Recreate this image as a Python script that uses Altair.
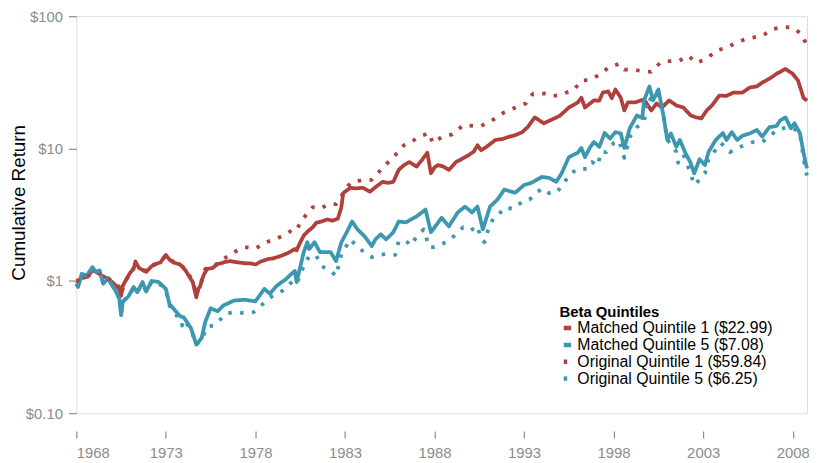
import altair as alt
import pandas as pd

# ---- data ----
series_names = [
    "Matched Quintile 1 ($22.99)",
    "Matched Quintile 5 ($7.08)",
    "Original Quintile 1 ($59.84)",
    "Original Quintile 5 ($6.25)",
]

m1_year = [1968.0, 1968.1, 1968.3, 1968.6, 1968.9, 1969.1, 1969.4, 1969.7, 1970.0, 1970.3, 1970.4, 1970.5, 1970.6, 1970.8,
           1971.0, 1971.2, 1971.3, 1971.5, 1971.9, 1972.2, 1972.5, 1972.7, 1973.0, 1973.2, 1973.4, 1973.8, 1974.1, 1974.3,
           1974.5, 1974.7, 1974.8, 1974.9, 1975.1, 1975.3, 1975.6, 1975.9, 1976.1, 1976.3, 1976.6, 1977.0, 1977.4, 1977.8,
           1978.0, 1978.3, 1978.7, 1979.0, 1979.4, 1979.8, 1980.2, 1980.3, 1980.5, 1980.7, 1980.9, 1981.2, 1981.4, 1981.7,
           1982.0, 1982.3, 1982.6, 1982.8, 1982.9, 1983.3, 1983.6, 1984.0, 1984.4, 1984.7, 1985.1, 1985.4, 1985.7, 1986.0,
           1986.3, 1986.6, 1987.0, 1987.3, 1987.6, 1987.8, 1988.0, 1988.2, 1988.5, 1988.8, 1989.2, 1989.5, 1989.9, 1990.2,
           1990.4, 1990.6, 1990.9, 1991.4, 1991.8, 1992.1, 1992.5, 1992.9, 1993.2, 1993.6, 1994.1, 1994.4, 1994.7, 1995.0,
           1995.5, 1996.0, 1996.2, 1996.4, 1996.9, 1997.2, 1997.4, 1997.7, 1997.9, 1998.1, 1998.4, 1998.6, 1998.8, 1999.2,
           1999.7, 2000.1, 2000.4, 2000.7, 2001.1, 2001.5, 2001.9, 2002.3, 2002.6, 2002.9, 2003.2, 2003.5, 2003.9, 2004.3,
           2004.7, 2005.2, 2005.6, 2006.0, 2006.3, 2006.7, 2007.1, 2007.6, 2008.0, 2008.3, 2008.6, 2008.8]
m1_val = [1.00, 0.98, 1.05, 1.07, 1.20, 1.17, 1.10, 1.05, 0.98, 0.90, 0.87, 0.77, 0.92, 1.03,
          1.15, 1.23, 1.40, 1.25, 1.17, 1.29, 1.35, 1.38, 1.57, 1.45, 1.38, 1.33, 1.20, 1.08,
          0.98, 0.75, 0.87, 0.90, 1.10, 1.23, 1.25, 1.34, 1.36, 1.39, 1.41, 1.38, 1.36, 1.35,
          1.33, 1.40, 1.46, 1.48, 1.54, 1.62, 1.74, 1.70, 1.95, 2.20, 2.35, 2.54, 2.75, 2.81,
          2.91, 2.85, 2.95, 3.6, 4.6, 5.05, 5.0, 5.05, 4.72, 5.1, 5.6, 5.5, 5.6, 6.9,
          7.5, 7.9, 7.3, 8.2, 9.3, 6.5, 7.2, 7.5, 7.3, 6.9, 7.9, 8.3, 8.9, 9.5,
          10.6, 9.7, 10.3, 11.6, 11.8, 12.2, 12.6, 13.3, 14.5, 17.2, 15.5, 16.2, 16.9, 17.7,
          20.4, 22.3, 24.2, 20.4, 23.1, 23.0, 26.5, 27.0, 24.0, 27.9, 24.2, 19.4, 22.3, 22.3,
          23.5, 19.4, 21.9, 20.4, 23.1, 21.2, 20.4, 17.8, 17.2, 16.9, 19.4, 21.2, 25.1, 25.0,
          26.5, 26.5, 28.9, 29.5, 31.5, 33.7, 36.7, 39.9, 36.7, 32.6, 24.2, 22.99]

m5_year = [1968.0, 1968.1, 1968.3, 1968.6, 1968.9, 1969.1, 1969.3, 1969.5, 1969.8, 1970.0, 1970.2, 1970.4, 1970.5, 1970.6,
           1970.9, 1971.2, 1971.4, 1971.7, 1971.9, 1972.2, 1972.6, 1973.0, 1973.2, 1973.5, 1973.8, 1974.0, 1974.4, 1974.7,
           1975.0, 1975.2, 1975.5, 1975.9, 1976.2, 1976.8, 1977.4, 1978.0, 1978.5, 1978.8, 1979.2, 1979.7, 1980.2, 1980.3,
           1980.7, 1980.9, 1981.0, 1981.3, 1981.6, 1982.2, 1982.5, 1982.8, 1983.1, 1983.4, 1983.7, 1984.1, 1984.5, 1984.7,
           1985.0, 1985.3, 1985.7, 1986.0, 1986.4, 1987.0, 1987.5, 1987.8, 1988.4, 1988.8, 1989.3, 1989.7, 1990.1, 1990.4,
           1990.7, 1991.1, 1991.5, 1991.9, 1992.5, 1993.0, 1993.4, 1994.0, 1994.4, 1994.8, 1995.1, 1995.5, 1996.0, 1996.2,
           1996.4, 1996.7, 1996.9, 1997.2, 1997.5, 1997.8, 1998.1, 1998.4, 1998.6, 1998.9, 1999.3, 1999.6, 1999.7, 2000.0,
           2000.2, 2000.5, 2000.8, 2001.0, 2001.2, 2001.5, 2001.7, 2002.0, 2002.3, 2002.5, 2002.8, 2003.1, 2003.3, 2003.7,
           2004.1, 2004.3, 2004.6, 2004.9, 2005.2, 2005.6, 2006.0, 2006.3, 2006.7, 2007.1, 2007.3, 2007.6, 2007.9, 2008.1,
           2008.4, 2008.7, 2008.8]
m5_val = [0.95, 0.90, 1.13, 1.10, 1.27, 1.17, 1.20, 0.95, 1.05, 0.92, 0.84, 0.73, 0.55, 0.70,
          0.76, 0.90, 0.82, 0.98, 0.83, 1.00, 0.98, 0.87, 0.67, 0.60, 0.54, 0.53, 0.44, 0.33,
          0.37, 0.49, 0.62, 0.59, 0.65, 0.71, 0.72, 0.70, 0.87, 0.80, 0.92, 1.03, 1.19, 0.98,
          1.65, 1.96, 1.74, 1.96, 1.65, 1.65, 1.41, 1.96, 2.33, 2.81, 2.45, 2.17, 1.83, 2.06,
          2.25, 2.06, 2.33, 2.81, 2.77, 3.07, 3.46, 2.33, 3.0, 2.58, 3.29, 3.64, 3.29, 3.64,
          2.45, 3.64, 4.1, 4.89, 4.63, 5.3, 5.5, 6.1, 6.0, 5.6, 6.5, 8.6, 9.3, 10.1,
          8.6, 10.3, 11.2, 10.3, 13.1, 11.9, 13.3, 13.0, 10.1, 14.2, 17.8, 17.0, 23.1, 29.4,
          23.1, 27.9, 17.2, 11.6, 13.0, 10.3, 11.6, 9.3, 7.8, 6.5, 8.3, 7.5, 9.4, 11.6,
          13.1, 11.6, 13.3, 11.6, 12.5, 13.0, 13.8, 12.3, 14.5, 14.8, 16.3, 17.2, 14.2, 15.5,
          13.1, 8.0, 7.08]

o1_year = [1968.0, 1968.3, 1968.6, 1968.9, 1969.1, 1969.4, 1969.7, 1970.0, 1970.4, 1970.5, 1970.8, 1971.2, 1971.5, 1971.9,
           1972.2, 1972.7, 1973.0, 1973.4, 1973.8, 1974.1, 1974.5, 1974.7, 1974.9, 1975.2, 1975.7, 1976.2, 1976.8, 1977.4,
           1978.0, 1978.6, 1979.1, 1979.7, 1980.2, 1980.3, 1980.7, 1981.2, 1981.6, 1982.1, 1982.5, 1982.9, 1983.3, 1984.0,
           1984.5, 1985.0, 1985.8, 1986.3, 1986.7, 1987.1, 1987.7, 1987.9, 1988.4, 1989.0, 1989.6, 1990.2, 1990.6, 1991.3,
           1991.9, 1992.4, 1993.1, 1993.5, 1994.2, 1994.6, 1995.0, 1995.8, 1996.2, 1996.7, 1997.3, 1997.7, 1998.3, 1998.6,
           1999.1, 1999.7, 2000.1, 2000.6, 2001.0, 2001.6, 2002.2, 2002.6, 2003.2, 2003.7, 2004.4, 2004.9, 2005.6, 2006.3,
           2006.9, 2007.5, 2008.0, 2008.5, 2008.8]
o1_val = [1.00, 1.03, 1.07, 1.15, 1.17, 1.12, 1.05, 1.00, 0.90, 0.80, 1.03, 1.25, 1.20, 1.20,
          1.30, 1.40, 1.55, 1.40, 1.33, 1.22, 1.00, 0.78, 0.92, 1.23, 1.30, 1.46, 1.65, 1.80,
          1.75, 1.96, 2.06, 2.25, 2.50, 2.45, 3.0, 3.6, 3.5, 3.8, 3.8, 4.6, 5.5, 5.8,
          5.8, 6.9, 8.9, 10.6, 11.2, 12.2, 13.1, 11.0, 12.2, 12.8, 15.0, 14.8, 14.8, 16.6,
          18.8, 20.1, 21.9, 26.0, 26.0, 25.0, 25.3, 27.9, 32.6, 33.0, 36.7, 40.9, 43.6, 39.4,
          39.4, 38.2, 38.0, 44.4, 45.7, 45.7, 50.1, 44.4, 47.6, 54.6, 58.5, 63.9, 68.4, 71.0,
          80.0, 82.7, 82.0, 73.0, 59.84]

o5_year = [1968.0, 1968.1, 1968.3, 1968.6, 1968.9, 1969.1, 1969.3, 1969.5, 1969.8, 1970.0, 1970.2, 1970.4, 1970.5, 1970.6,
           1970.9, 1971.2, 1971.4, 1971.7, 1971.9, 1972.2, 1972.6, 1973.0, 1973.2, 1973.5, 1973.9, 1974.0, 1974.4, 1974.7,
           1975.0, 1975.3, 1975.7, 1976.4, 1976.9, 1977.4, 1977.9, 1978.3, 1978.9, 1979.5, 1980.1, 1980.3, 1980.7, 1981.0,
           1981.4, 1981.7, 1982.2, 1982.5, 1982.8, 1983.3, 1983.7, 1984.0, 1984.5, 1984.9, 1985.3, 1985.8, 1986.0, 1986.4,
           1986.7, 1987.0, 1987.4, 1987.7, 1988.0, 1988.8, 1989.3, 1989.6, 1990.0, 1990.4, 1990.6, 1990.8, 1991.0, 1991.3,
           1991.6, 1991.9, 1992.4, 1992.9, 1993.3, 1993.7, 1994.0, 1994.4, 1994.8, 1995.1, 1995.6, 1996.1, 1996.5, 1996.8,
           1997.1, 1997.3, 1997.6, 1998.0, 1998.3, 1998.6, 1998.9, 1999.3, 1999.7, 1999.9, 2000.2, 2000.5, 2000.8, 2001.0,
           2001.3, 2001.5, 2001.6, 2001.9, 2002.3, 2002.5, 2002.8, 2003.1, 2003.3, 2003.6, 2004.0, 2004.5, 2004.9, 2005.8,
           2006.3, 2006.7, 2007.1, 2007.7, 2008.1, 2008.4, 2008.7, 2008.8]
o5_val = [0.95, 0.90, 1.10, 1.10, 1.25, 1.17, 1.18, 0.97, 1.03, 0.92, 0.84, 0.74, 0.57, 0.70,
          0.76, 0.88, 0.82, 0.95, 0.83, 0.98, 0.96, 0.85, 0.65, 0.58, 0.46, 0.51, 0.43, 0.33,
          0.36, 0.45, 0.46, 0.57, 0.58, 0.57, 0.58, 0.65, 0.76, 0.84, 1.00, 0.95, 1.29, 1.54,
          1.55, 1.29, 1.19, 1.09, 1.59, 2.06, 1.80, 1.68, 1.51, 1.57, 1.60, 1.57, 2.0, 2.0,
          1.85, 2.17, 2.45, 1.80, 1.80, 2.0, 2.33, 2.54, 2.40, 2.60, 2.06, 1.96, 2.45, 3.0,
          3.18, 3.58, 3.5, 3.97, 4.1, 4.63, 5.0, 4.6, 4.6, 5.2, 6.5, 7.1, 7.0, 7.9,
          7.4, 9.4, 9.4, 11.0, 11.5, 8.5, 12.2, 14.5, 15.8, 24.2, 23.0, 25.5, 17.0, 11.6,
          10.5, 9.4, 7.8, 9.0, 6.5, 5.3, 5.8, 6.5, 8.3, 9.4, 11.0, 9.4, 10.1, 11.2,
          11.2, 12.3, 13.8, 14.5, 14.0, 13.0, 7.0, 6.25]

x_ticks = [1968, 1973, 1978, 1983, 1988, 1993, 1998, 2003, 2008]
y_ticks = [0.1, 1, 10, 100]

red = "#B0403C"
teal = "#3C97B1"

rows = []
for name, ys, vs in zip(series_names, [m1_year, m5_year, o1_year, o5_year], [m1_val, m5_val, o1_val, o5_val]):
    for i, (y, v) in enumerate(zip(ys, vs)):
        rows.append({"series": name, "year": y, "value": v, "idx": i})
df = pd.DataFrame(rows)

chart = alt.Chart(df).mark_line(strokeWidth=3.8, strokeJoin="round").encode(
    x=alt.X("year:Q",
            scale=alt.Scale(domain=[1968, 2008.8], nice=False, zero=False),
            axis=alt.Axis(values=x_ticks, format="d", title=None, domain=False, grid=False,
                          tickColor="#8c8c8c", tickSize=7, tickWidth=1.2, offset=18,
                          labelColor="#8c8c8c", labelFontSize=15, labelPadding=8,
                          labelFont="Liberation Sans")),
    y=alt.Y("value:Q",
            scale=alt.Scale(type="log", domain=[0.1, 100], nice=False),
            axis=alt.Axis(values=y_ticks, title="Cumulative Return", domain=False, grid=False,
                          labelExpr="datum.value < 1 ? '$0.10' : '$' + format(datum.value, 'd')",
                          tickColor="#8c8c8c", tickSize=8, tickWidth=1.2,
                          labelColor="#8c8c8c", labelFontSize=15, labelPadding=6,
                          labelFont="Liberation Sans",
                          titleFont="Liberation Sans", titleFontSize=19, titleFontWeight="normal",
                          titleColor="black", titleX=-58, titleY=188, titleAngle=270,
                          titleAlign="center", titleBaseline="middle")),
    color=alt.Color("series:N",
                    scale=alt.Scale(domain=series_names, range=[red, teal, red, teal]),
                    legend=alt.Legend(title="Beta Quintiles", orient="none", legendX=488, legendY=292,
                                      titleFont="Liberation Sans", titleFontSize=15, titleFontWeight="bold",
                                      titleColor="black", titlePadding=0,
                                      labelFont="Liberation Sans", labelFontSize=16, labelColor="black",
                                      labelLimit=0, labelOffset=2, rowPadding=-2,
                                      symbolType="stroke",
                                      symbolSize=55, symbolStrokeWidth=4.5, padding=0)),
    strokeDash=alt.StrokeDash("series:N",
                              scale=alt.Scale(domain=series_names,
                                              range=[[1, 0], [1, 0], [3.5, 8.5], [3.5, 8.5]]),
                              legend=None),
    detail="series:N",
    order="idx:Q",
).properties(
    width=738, height=401,
    autosize=alt.AutoSizeParams(type="none"),
    padding={"left": 69, "top": 6, "right": 2, "bottom": 46},
).configure_view(stroke=None).configure(background="white")

chart.save("out.html", embed_options={"renderer": "svg", "actions": False})
